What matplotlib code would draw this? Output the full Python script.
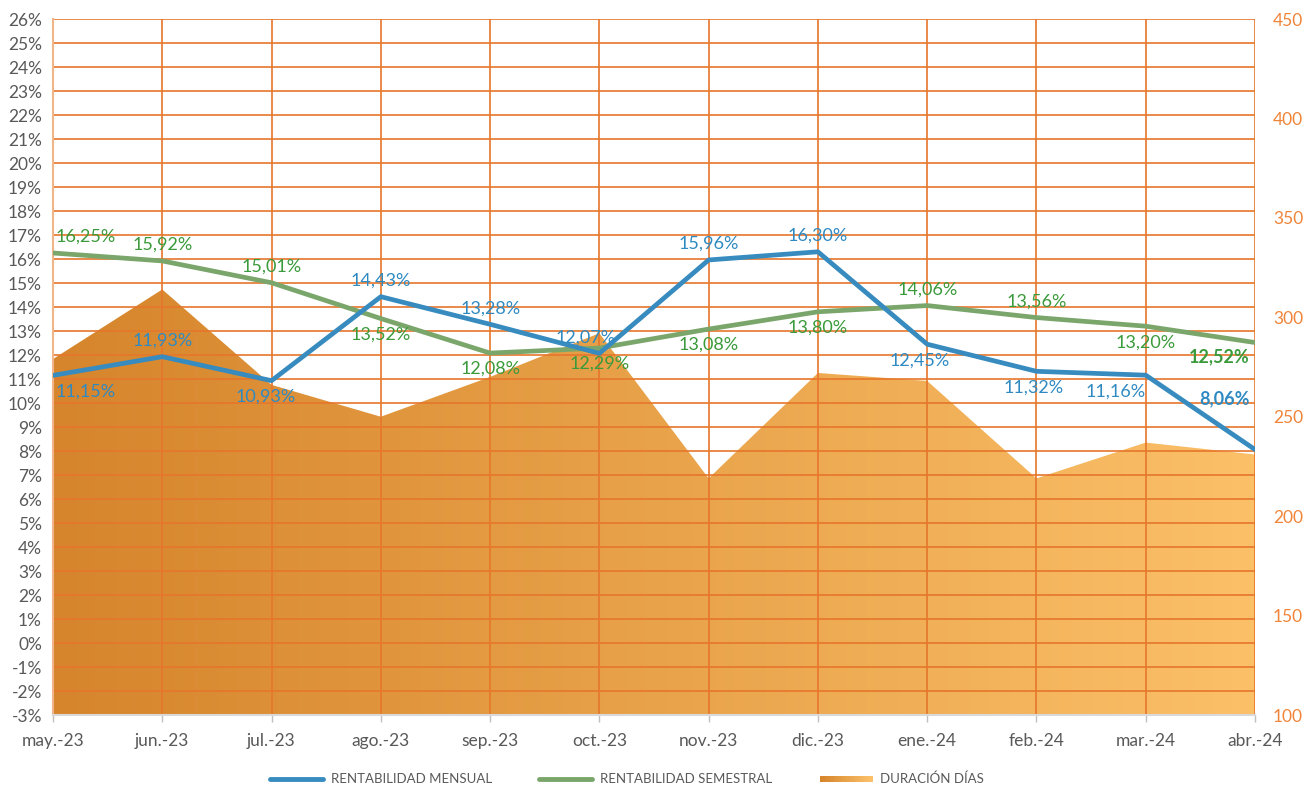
import matplotlib
matplotlib.use("Agg")
import matplotlib.pyplot as plt
import numpy as np
from matplotlib.legend_handler import HandlerBase
from matplotlib.patches import Rectangle
from matplotlib.lines import Line2D
import matplotlib.colors as mcolors

# ---------------- data ----------------
months = ["may.-23", "jun.-23", "jul.-23", "ago.-23", "sep.-23", "oct.-23",
          "nov.-23", "dic.-23", "ene.-24", "feb.-24", "mar.-24", "abr.-24"]
rent_mensual = [11.15, 11.93, 10.93, 14.43, 13.28, 12.07, 15.96, 16.30, 12.45, 11.32, 11.16, 8.06]
rent_semestral = [16.25, 15.92, 15.01, 13.52, 12.08, 12.29, 13.08, 13.80, 14.06, 13.56, 13.20, 12.52]
duracion_dias = [279, 314, 266, 250, 270, 292, 219, 272, 268, 219, 237, 231]

left_ticks = list(range(-3, 27))
right_ticks = list(range(100, 451, 50))

# label placement (above = -1 / below = +1), horizontal nudges in pixels
pos_mensual = [1, -1, 1, -1, -1, -1, -1, -1, 1, 1, 1, -3.2]
dx_mensual = [0, 0, -6, 0, 0, -14, 0, 0, -8, -3, -30, 0]
pos_semestral = [-1, -1, -1, 1, 1, 1, 1, 1, -1, -1, 1, 0.9]
dx_semestral = [0, 0, 0, 0, 0, 0, 0, 0, 0, 0, 0, 0]

# ---------------- style ----------------
plt.rcParams['font.family'] = ['Lato', 'DejaVu Sans']
BLUE = "#378BBE"
BLUE_TXT = "#2F8AC2"
GREEN = "#7BA66B"
GREEN_TXT = "#3B9A3B"
GRID = "#E6762B"
GRAY_TXT = "#595959"
ORANGE_TXT = "#F0853A"
C_LEFT = "#D6852C"
C_RIGHT = "#FBC068"

fig = plt.figure(figsize=(13.08, 7.89), dpi=100)
ax1 = fig.add_axes([53/1308, 1-715/789, (1255-53)/1308, (715-19)/789])
ax2 = ax1.twinx()
ax1.set_zorder(ax2.get_zorder() + 1)
ax1.patch.set_visible(False)

x = np.arange(len(months))

# ---- gradient area on secondary axis ----
ax2.set_ylim(100, 450)
ax2.set_xlim(0, len(months) - 1)
poly = ax2.fill_between(x, 100, duracion_dias, color='none', lw=0)
cmap = mcolors.LinearSegmentedColormap.from_list("g", [C_LEFT, C_RIGHT])
grad = np.linspace(0, 1, 512).reshape(1, -1)
im = ax2.imshow(grad, cmap=cmap, aspect='auto', extent=[0, len(months) - 1, 100, 450],
                origin='lower', zorder=1)
path = poly.get_paths()[0]
im.set_clip_path(path, transform=ax2.transData)
ax2.set_yticks(right_ticks)
ax2.tick_params(axis='y', length=0, pad=13, labelsize=12.5, labelcolor=ORANGE_TXT)
for s in ax2.spines.values():
    s.set_visible(False)

# ---- primary axis ----
ax1.set_xlim(0, len(months) - 1)
ax1.set_ylim(-3, 26)
ax1.set_yticks(left_ticks)
ax1.set_yticklabels([f"{t}%" for t in left_ticks])
ax1.set_xticks(x)
ax1.set_xticklabels(months)
ax1.grid(True, color=GRID, lw=1.2)
ax1.tick_params(axis='y', length=0, pad=8, labelsize=12.5, labelcolor=GRAY_TXT)
ax1.tick_params(axis='x', length=5, width=1, color="#BFBFBF", pad=8, labelsize=12.5, labelcolor=GRAY_TXT)
for k in ['top', 'right']:
    ax1.spines[k].set_visible(False)
ax1.spines['left'].set_color("#F2B58A")
ax1.spines['left'].set_linewidth(1.5)
ax1.spines['bottom'].set_color("#D9D9D9")
ax1.spines['bottom'].set_linewidth(1.5)

ax1.plot(x, rent_semestral, color=GREEN, lw=3.4, zorder=3, solid_capstyle='round')
ax1.plot(x, rent_mensual, color=BLUE, lw=3.4, zorder=4, solid_capstyle='round')


def fmt(v):
    return f"{v:.2f}%".replace('.', ',')


def put_labels(vals, pos, dxs, color):
    n = len(vals)
    for i, (v, p, ddx) in enumerate(zip(vals, pos, dxs)):
        dx, ha = ddx, 'center'
        weight = 'normal'
        dy = -16 * p
        if i == 0:
            ha, dx = 'left', 3
        if i == n - 1:
            ha, dx = 'right', -5
            weight = 'bold'
        ax1.annotate(fmt(v), (i, v), xytext=(dx, dy), textcoords='offset pixels',
                     ha=ha, va='center', color=color, fontsize=13, fontweight=weight,
                     zorder=6)


put_labels(rent_semestral, pos_semestral, dx_semestral, GREEN_TXT)
put_labels(rent_mensual, pos_mensual, dx_mensual, BLUE_TXT)


# ---- legend ----
class GradHandler(HandlerBase):
    def create_artists(self, legend, orig, xd, yd, w, h, fontsize, trans):
        arts = []
        n = 20
        for k in range(n):
            c = cmap(k / (n - 1))
            r = Rectangle((xd + w * k / n, yd + h / 2 - 2.2), w / n + 0.3, 4.4,
                          facecolor=c, edgecolor='none', transform=trans)
            arts.append(r)
        return arts


h1 = Line2D([], [], color=BLUE, lw=3.5, solid_capstyle='round')
h2 = Line2D([], [], color=GREEN, lw=3.5, solid_capstyle='round')
h3 = Rectangle((0, 0), 1, 1)
leg = fig.legend([h1, h2, h3], ["RENTABILIDAD MENSUAL", "RENTABILIDAD SEMESTRAL", "DURACIÓN DÍAS"],
                 handler_map={h3: GradHandler()}, loc='center', bbox_to_anchor=(627/1308, 1-779/789),
                 ncol=3, frameon=False, fontsize=9.5, handlelength=4.0, columnspacing=3.6,
                 handletextpad=0.6, labelcolor=GRAY_TXT)

fig.savefig("out.png", dpi=100)
